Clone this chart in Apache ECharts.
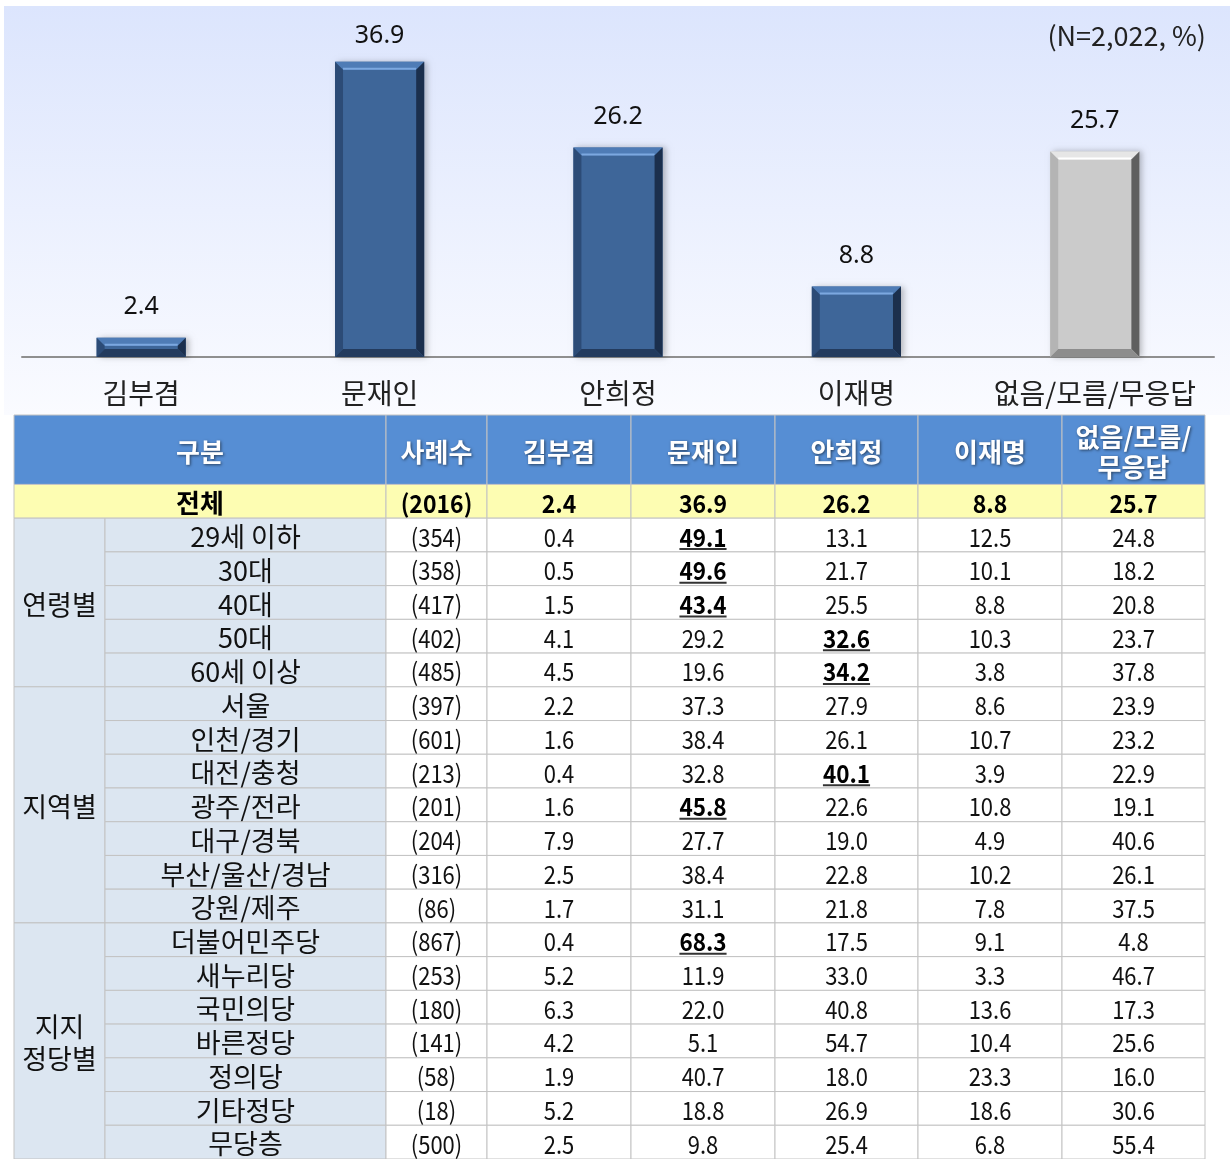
<!DOCTYPE html>
<html>
<head>
<meta charset="utf-8">
<script src="https://cdn.jsdelivr.net/npm/echarts@6/dist/echarts.min.js"></script>
<style>
  html, body { margin: 0; padding: 0; background: #fff; }
  #main { width: 1232px; height: 1159px; }
</style>
</head>
<body>
<div id="main"></div>
<script>
// 후보별 지지율 (전체)
const candidates = ['김부겸', '문재인', '안희정', '이재명', '없음/모름/무응답'];
const totalValues = [2.4, 36.9, 26.2, 8.8, 25.7];
const sampleNote = '(N=2,022, %)';

// 표 머리글
const tableHeaders = ['구분', '사례수', '김부겸', '문재인', '안희정', '이재명', '없음/모름/\n무응답'];
const totalLabel = '전체';
const totalN = 2016;
const groupNames = ['연령별', '지역별', '지지\n정당별'];

// 연령별
const ageLabels = ['29세 이하', '30대', '40대', '50대', '60세 이상'];
const ageN = [354, 358, 417, 402, 485];
const ageValues = [
  [0.4, 49.1, 13.1, 12.5, 24.8],
  [0.5, 49.6, 21.7, 10.1, 18.2],
  [1.5, 43.4, 25.5, 8.8, 20.8],
  [4.1, 29.2, 32.6, 10.3, 23.7],
  [4.5, 19.6, 34.2, 3.8, 37.8]
];
const ageTop = [1, 1, 1, 2, 2]; // 밑줄 강조 열 (-1 없음)

// 지역별
const regionLabels = ['서울', '인천/경기', '대전/충청', '광주/전라', '대구/경북', '부산/울산/경남', '강원/제주'];
const regionN = [397, 601, 213, 201, 204, 316, 86];
const regionValues = [
  [2.2, 37.3, 27.9, 8.6, 23.9],
  [1.6, 38.4, 26.1, 10.7, 23.2],
  [0.4, 32.8, 40.1, 3.9, 22.9],
  [1.6, 45.8, 22.6, 10.8, 19.1],
  [7.9, 27.7, 19.0, 4.9, 40.6],
  [2.5, 38.4, 22.8, 10.2, 26.1],
  [1.7, 31.1, 21.8, 7.8, 37.5]
];
const regionTop = [-1, -1, 2, 1, -1, -1, -1];

// 지지 정당별
const partyLabels = ['더불어민주당', '새누리당', '국민의당', '바른정당', '정의당', '기타정당', '무당층'];
const partyN = [867, 253, 180, 141, 58, 18, 500];
const partyValues = [
  [0.4, 68.3, 17.5, 9.1, 4.8],
  [5.2, 11.9, 33.0, 3.3, 46.7],
  [6.3, 22.0, 40.8, 13.6, 17.3],
  [4.2, 5.1, 54.7, 10.4, 25.6],
  [1.9, 40.7, 18.0, 23.3, 16.0],
  [5.2, 18.8, 26.9, 18.6, 30.6],
  [2.5, 9.8, 25.4, 6.8, 55.4]
];
const partyTop = [1, -1, -1, -1, -1, -1, -1];

// ---- 표 레이아웃 ----
const colW = [91, 281, 101, 144, 144, 143, 144, 143];
const headerH = 70, rowH = 34;
const xEdges = [0];
colW.forEach(w => xEdges.push(xEdges[xEdges.length - 1] + w));

const KOR = '"Noto Sans CJK KR", sans-serif';
const NUM = '"Noto Sans CJK KR", sans-serif';

const groups = [
  { name: groupNames[0], labels: ageLabels, n: ageN, values: ageValues, top: ageTop },
  { name: groupNames[1], labels: regionLabels, n: regionN, values: regionValues, top: regionTop },
  { name: groupNames[2], labels: partyLabels, n: partyN, values: partyValues, top: partyTop }
];

const cells = [];
function addCell(c0, c1, y0, y1, text, kind, under) {
  cells.push({ x0: xEdges[c0], x1: xEdges[c1], y0: y0, y1: y1, text: text, kind: kind, under: !!under });
}
// 머리글
addCell(0, 2, 0, headerH, tableHeaders[0], 'head');
for (let i = 1; i < tableHeaders.length; i++) addCell(i + 1, i + 2, 0, headerH, tableHeaders[i], 'head');
// 전체
let y = headerH;
addCell(0, 2, y, y + rowH, totalLabel, 'totalLabel');
addCell(2, 3, y, y + rowH, '(' + totalN + ')', 'total');
totalValues.forEach((v, j) => addCell(j + 3, j + 4, y, y + rowH, v.toFixed(1), 'total'));
y += rowH;
// 그룹
groups.forEach(g => {
  addCell(0, 1, y, y + rowH * g.labels.length, g.name, 'group');
  g.labels.forEach((lab, i) => {
    addCell(1, 2, y, y + rowH, lab, 'sub');
    addCell(2, 3, y, y + rowH, '(' + g.n[i] + ')', 'num');
    g.values[i].forEach((v, j) => addCell(j + 3, j + 4, y, y + rowH, v.toFixed(1), g.top[i] === j ? 'hi' : 'num', g.top[i] === j));
    y += rowH;
  });
});
const tableH = y;

const measureCtx = document.createElement('canvas').getContext('2d');
function textWidth(text, font) { measureCtx.font = font; return measureCtx.measureText(text).width; }

const cellStyle = {
  head: { fill: '#568ed4', font: 'bold 26px ' + KOR, color: '#fff', shadow: true, sx: 1, dy: 2, lh: 30 },
  totalLabel: { fill: '#fdfdb2', font: 'bold 26px ' + KOR, color: '#000', sx: 1, dy: 2 },
  total: { fill: '#fdfdb2', font: 'bold 25px ' + NUM, color: '#000', sx: 0.92, dy: 2 },
  group: { fill: '#dce6f1', font: '27px ' + KOR, color: '#111', sx: 1, dy: 2, lh: 32 },
  sub: { fill: '#dce6f1', font: '27px ' + KOR, color: '#111', sx: 1, dy: 2 },
  num: { fill: '#ffffff', font: '25px ' + NUM, color: '#111', sx: 0.88, dy: 2 },
  hi: { fill: '#ffffff', font: 'bold 25px ' + NUM, color: '#000', sx: 0.9, dy: 2 }
};

function renderCell(params, api) {
  const c = cells[params.dataIndex];
  const p0 = api.coord([c.x0, c.y0]);
  const p1 = api.coord([c.x1, c.y1]);
  const st = cellStyle[c.kind];
  const cx = (p0[0] + p1[0]) / 2, cy = (p0[1] + p1[1]) / 2 + st.dy;
  const children = [{
    type: 'rect',
    shape: { x: p0[0], y: p0[1], width: p1[0] - p0[0], height: p1[1] - p0[1] },
    style: { fill: st.fill, stroke: '#c3c3c3', lineWidth: 1 }
  }, {
    type: 'text',
    x: cx, y: cy, scaleX: st.sx,
    style: {
      text: c.text, x: 0, y: 0,
      textAlign: 'center', textVerticalAlign: 'middle', align: 'center', verticalAlign: 'middle',
      font: st.font, fill: st.color, lineHeight: st.lh || 28,
      textShadowColor: st.shadow ? 'rgba(0,0,0,0.55)' : 'transparent',
      textShadowBlur: st.shadow ? 3 : 0, textShadowOffsetX: st.shadow ? 1 : 0, textShadowOffsetY: st.shadow ? 1 : 0
    }
  }];
  if (c.under) {
    const w = textWidth(c.text, st.font) * st.sx;
    children.push({
      type: 'line',
      shape: { x1: cx - w / 2, y1: cy + 12, x2: cx + w / 2, y2: cy + 12 },
      style: { stroke: '#333', lineWidth: 2 }
    });
  }
  return { type: 'group', children: children };
}

// ---- 입체 막대 ----
const barColors = [
  { face: '#3e6699', top: '#4f7cb6', hl: '#7ca8e0', left: '#2c4b76', right: '#1b2f4d', bottom: '#233b5e' },
  { face: '#cbcbcb', top: '#e6e6e6', hl: '#ffffff', left: '#b4b4b4', right: '#5f5f5f', bottom: '#8d8d8d' }
];
function renderBar(params, api) {
  const idx = api.value(0);
  const val = api.value(1);
  const top = api.coord([idx, val]);
  const base = api.coord([idx, 0]);
  const w = api.size([1, 0])[0] * 0.374;
  const x0 = top[0] - w / 2, x1 = top[0] + w / 2, y0 = top[1], y1 = base[1];
  const b = Math.min(8, (y1 - y0) / 2.4);
  const col = barColors[idx === candidates.length - 1 ? 1 : 0];
  return {
    type: 'group',
    children: [
      { type: 'rect', shape: { x: x0, y: y0, width: w, height: y1 - y0 },
        style: { fill: col.face, shadowBlur: 6, shadowColor: 'rgba(0,0,0,0.25)', shadowOffsetX: 3, shadowOffsetY: 0 } },
      { type: 'polygon', shape: { points: [[x0, y0], [x1, y0], [x1 - b, y0 + b], [x0 + b, y0 + b]] }, style: { fill: col.top } },
      { type: 'line', shape: { x1: x0 + b, y1: y0 + b - 1, x2: x1 - b, y2: y0 + b - 1 }, style: { stroke: col.hl, lineWidth: 2 } },
      { type: 'polygon', shape: { points: [[x0, y0], [x0 + b, y0 + b], [x0 + b, y1 - b], [x0, y1]] }, style: { fill: col.left } },
      { type: 'polygon', shape: { points: [[x1, y0], [x1, y1], [x1 - b, y1 - b], [x1 - b, y0 + b]] }, style: { fill: col.right } },
      { type: 'polygon', shape: { points: [[x0, y1], [x0 + b, y1 - b], [x1 - b, y1 - b], [x1, y1]] }, style: { fill: col.bottom } },
      { type: 'text', style: { text: totalValues[idx].toFixed(1), x: top[0], y: Math.max(y0 - 31, 36),
        textAlign: 'center', textVerticalAlign: 'middle', align: 'center', verticalAlign: 'middle',
        font: '25px "Noto Sans", sans-serif', fill: '#111' } }
    ]
  };
}

const chart = echarts.init(document.getElementById('main'));
chart.setOption({
  animation: false,
  backgroundColor: '#ffffff',
  graphic: [
    { type: 'rect', z: -10, shape: { x: 4, y: 6, width: 1226, height: 409 },
      style: { fill: new echarts.graphic.LinearGradient(0, 0, 0, 1, [
        { offset: 0, color: '#dce5fd' }, { offset: 1, color: '#fafbff' }]) } },
    { type: 'text', right: 26, top: 22,
      style: { text: sampleNote, font: '27px ' + KOR, fill: '#222' } }
  ],
  grid: [
    { left: 22, right: 18, top: 37, height: 320 },
    { left: 14, top: 415, width: xEdges[xEdges.length - 1], height: tableH }
  ],
  xAxis: [
    { type: 'category', gridIndex: 0, data: candidates,
      axisLine: { lineStyle: { color: '#8f8f8f', width: 2 } },
      axisTick: { show: false },
      axisLabel: { interval: 0, hideOverlap: false, margin: 22, fontSize: 28, color: '#222', fontFamily: KOR } },
    { type: 'value', gridIndex: 1, min: 0, max: xEdges[xEdges.length - 1], show: false }
  ],
  yAxis: [
    { type: 'value', gridIndex: 0, min: 0, max: 40, show: false },
    { type: 'value', gridIndex: 1, min: 0, max: tableH, inverse: true, show: false }
  ],
  series: [
    { type: 'custom', xAxisIndex: 0, yAxisIndex: 0, renderItem: renderBar,
      data: totalValues.map((v, i) => [i, v]) },
    { type: 'custom', xAxisIndex: 1, yAxisIndex: 1, renderItem: renderCell,
      encode: { x: [0, 2], y: [1, 3] },
      data: cells.map(c => [c.x0, c.y0, c.x1, c.y1]) }
  ]
});
</script>
</body>
</html>
